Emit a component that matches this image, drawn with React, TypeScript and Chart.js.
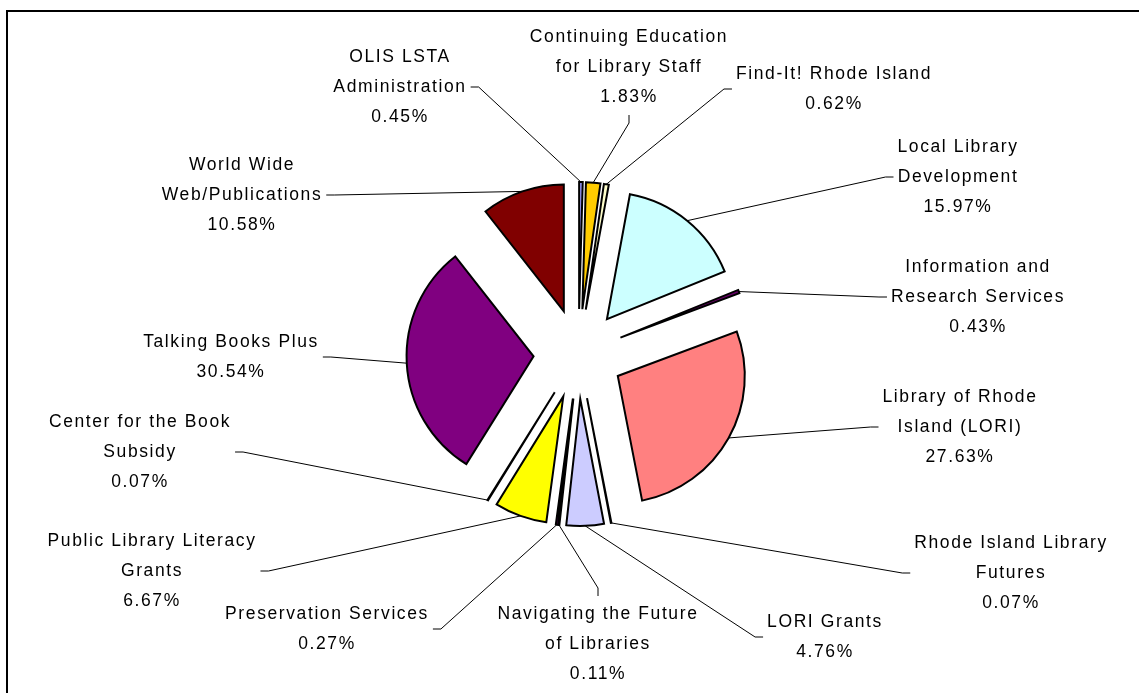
import React, { useEffect, useRef } from 'react';
import { Chart, registerables } from 'chart.js';

Chart.register(...registerables);

// ---- data ----
const CATEGORIES: string[][] = [
  ['OLIS LSTA', 'Administration'],
  ['Continuing Education', 'for Library Staff'],
  ['Find-It! Rhode Island'],
  ['Local Library', 'Development'],
  ['Information and', 'Research Services'],
  ['Library of Rhode', 'Island (LORI)'],
  ['Rhode Island Library', 'Futures'],
  ['LORI Grants'],
  ['Navigating the Future', 'of Libraries'],
  ['Preservation Services'],
  ['Public Library Literacy', 'Grants'],
  ['Center for the Book', 'Subsidy'],
  ['Talking Books Plus'],
  ['World Wide', 'Web/Publications'],
];
const SHARES: number[] = [0.45, 1.83, 0.62, 15.97, 0.43, 27.63, 0.07, 4.76, 0.11, 0.27, 6.67, 0.07, 30.54, 10.58];

// ---- styling / layout ----
const COLORS: string[] = [
  '#9999FF', '#FFCC00', '#FFFFCC', '#CCFFFF', '#660066', '#FF8080', '#0066CC',
  '#CCCCFF', '#000080', '#FF00FF', '#FFFF00', '#00FFFF', '#800080', '#800000',
];
// label block: centre x, centre y of the first text line
const LABEL_POS: number[][] = [
  [400, 57], [629, 37], [834, 74], [958, 147], [978, 267], [960, 397], [1011, 543],
  [825, 622], [598, 614], [327, 614], [152, 541], [140, 422], [231, 342], [242, 165],
];
const LINE_H = 30;
const EXPLODE = 45;
const RADIUS = 127;
const W = 1139;
const H = 693;

const framePlugin = {
  id: 'frame',
  beforeDraw(chart: any) {
    const ctx = chart.ctx;
    ctx.save();
    ctx.fillStyle = '#ffffff';
    ctx.fillRect(0, 0, W, H);
    ctx.fillStyle = '#000000';
    ctx.fillRect(6, 10, 2, H - 10);
    ctx.fillRect(6, 10, W - 6, 2);
    ctx.restore();
  },
};

const explodePlugin = {
  id: 'explode',
  beforeDatasetDraw(chart: any, args: any) {
    const ctx = chart.ctx;
    args.meta.data.forEach((arc: any) => {
      const mid = (arc.startAngle + arc.endAngle) / 2;
      ctx.save();
      ctx.translate(Math.cos(mid) * EXPLODE, Math.sin(mid) * EXPLODE);
      arc.draw(ctx, chart.chartArea);
      ctx.restore();
    });
    return false;
  },
};

const labelPlugin = {
  id: 'pieLabels',
  afterDatasetsDraw(chart: any) {
    const ctx = chart.ctx;
    const meta = chart.getDatasetMeta(0);
    ctx.save();
    ctx.font = '17.5px "Liberation Sans", Arial, sans-serif';
    const hasLS = 'letterSpacing' in ctx;
    if (hasLS) (ctx as any).letterSpacing = '1.6px';
    ctx.textAlign = 'center';
    ctx.textBaseline = 'middle';
    meta.data.forEach((arc: any, i: number) => {
      const lines = [...CATEGORIES[i], SHARES[i].toFixed(2) + '%'];
      const [cx, y0] = LABEL_POS[i];
      let w = 0;
      lines.forEach((t) => {
        w = Math.max(w, ctx.measureText(t).width);
      });
      const n = lines.length;
      const left = cx - w / 2 - 4;
      const right = cx + w / 2 + 4;
      const top = y0 - 18;
      const bottom = y0 + (n - 1) * LINE_H + 18;
      const midY = (y0 + y0 + (n - 1) * LINE_H) / 2;
      const mid = (arc.startAngle + arc.endAngle) / 2;
      const r = arc.outerRadius + EXPLODE;
      const px = arc.x + Math.cos(mid) * r;
      const py = arc.y + Math.sin(mid) * r;
      let ax: number, ay: number, tx: number, ty: number;
      if (px < left) {
        ax = left; ay = midY; tx = left - 8; ty = midY;
      } else if (px > right) {
        ax = right; ay = midY; tx = right + 8; ty = midY;
      } else if (py > bottom) {
        ax = cx; ay = bottom; tx = cx; ty = bottom + 8;
      } else {
        ax = cx; ay = top; tx = cx; ty = top - 8;
      }
      ctx.beginPath();
      ctx.moveTo(ax, ay);
      ctx.lineTo(tx, ty);
      ctx.lineTo(px, py);
      ctx.strokeStyle = '#000000';
      ctx.lineWidth = 1;
      ctx.stroke();
      ctx.fillStyle = '#000000';
      lines.forEach((t, k) => {
        ctx.fillText(t, cx, y0 + k * LINE_H);
      });
    });
    ctx.restore();
  },
};

export default function App() {
  const ref = useRef<HTMLCanvasElement | null>(null);
  useEffect(() => {
    if (!ref.current) return;
    const chart = new Chart(ref.current, {
      type: 'pie',
      data: {
        labels: CATEGORIES.map((l) => l.join(' ')),
        datasets: [
          {
            data: SHARES,
            backgroundColor: COLORS,
            borderColor: '#000000',
            borderWidth: 2,
            borderJoinStyle: 'miter',
            radius: RADIUS,
          } as any,
        ],
      },
      options: {
        responsive: false,
        animation: false,
        events: [],
        layout: { padding: { left: 18, top: 15, right: 0, bottom: 0 } },
        plugins: {
          legend: { display: false },
          tooltip: { enabled: false },
        },
      } as any,
      plugins: [framePlugin, explodePlugin, labelPlugin],
    });
    return () => chart.destroy();
  }, []);
  return (
    <div style={{ position: 'absolute', left: 0, top: 0, width: W, height: H }}>
      <canvas ref={ref} width={W} height={H} style={{ display: 'block', width: W, height: H }} />
    </div>
  );
}
